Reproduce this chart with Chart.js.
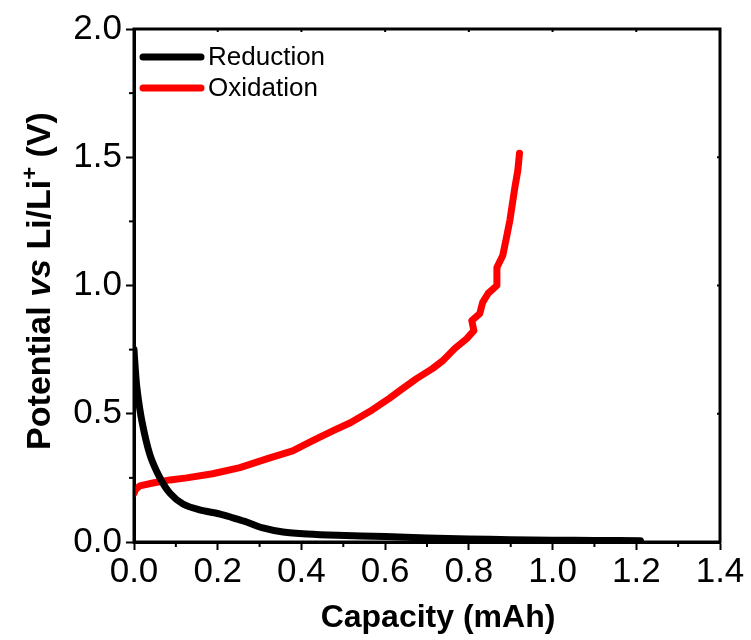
<!DOCTYPE html>
<html>
<head>
<meta charset="utf-8">
<script src="https://cdn.jsdelivr.net/npm/chart.js@4"></script>
<style>
  html, body { margin: 0; padding: 0; background: #fff; }
  #wrap { width: 751px; height: 640px; }
</style>
</head>
<body>
<div id="wrap"><canvas id="chart" width="751" height="640"></canvas></div>
<script>
// Reduction (discharge) curve
const reductionCapacity = [0.000, 0.002, 0.007, 0.019, 0.038, 0.062, 0.086, 0.117, 0.157, 0.206, 0.237, 0.269, 0.308, 0.356, 0.414, 0.485, 0.60, 0.70, 0.80, 0.90, 1.00, 1.10, 1.21];
const reductionPotential = [0.75, 0.70, 0.60, 0.47, 0.34, 0.25, 0.19, 0.148, 0.125, 0.109, 0.094, 0.078, 0.055, 0.039, 0.031, 0.026, 0.021, 0.016, 0.012, 0.009, 0.007, 0.006, 0.005];

// Oxidation (charge) curve
const oxidationCapacity = [0.000, 0.004, 0.014, 0.045, 0.086, 0.126, 0.188, 0.253, 0.317, 0.379, 0.427, 0.476, 0.517, 0.569, 0.610, 0.635, 0.675, 0.713, 0.738, 0.766, 0.795, 0.812, 0.807, 0.826, 0.833, 0.846, 0.867, 0.867, 0.881, 0.890, 0.898, 0.910, 0.917, 0.921];
const oxidationPotential = [0.19, 0.205, 0.219, 0.23, 0.242, 0.25, 0.266, 0.29, 0.324, 0.355, 0.395, 0.434, 0.465, 0.515, 0.56, 0.59, 0.637, 0.676, 0.707, 0.754, 0.793, 0.824, 0.863, 0.89, 0.934, 0.969, 1.0, 1.07, 1.117, 1.188, 1.254, 1.383, 1.449, 1.516];

const seriesLabels = ["Reduction", "Oxidation"];
const seriesColors = ["#000000", "#ff0000"];

const xTicks = [0.0, 0.2, 0.4, 0.6, 0.8, 1.0, 1.2, 1.4];
const yTicks = [0.0, 0.5, 1.0, 1.5, 2.0];

const FONT = "'Liberation Sans', Arial, Helvetica, sans-serif";

function toPoints(xs, ys) {
  return xs.map((x, i) => ({ x: x, y: ys[i] }));
}

// frame, minor ticks, inner legend and both axis titles
const decorPlugin = {
  id: "decor",
  afterDraw(chart) {
    const ctx = chart.ctx;
    const area = chart.chartArea;
    const xs = chart.scales.x;
    const ys = chart.scales.y;

    ctx.save();
    ctx.strokeStyle = "#000";
    ctx.lineWidth = 3;
    ctx.strokeRect(area.left, area.top, area.right - area.left, area.bottom - area.top);

    // minor ticks outward on bottom/left
    ctx.lineWidth = 2;
    for (let i = 0; i < xTicks.length - 1; i++) {
      const px = xs.getPixelForValue((xTicks[i] + xTicks[i + 1]) / 2);
      ctx.beginPath();
      ctx.moveTo(px, area.bottom);
      ctx.lineTo(px, area.bottom + 5);
      ctx.stroke();
    }
    for (let i = 0; i < yTicks.length - 1; i++) {
      const py = ys.getPixelForValue((yTicks[i] + yTicks[i + 1]) / 2);
      ctx.beginPath();
      ctx.moveTo(area.left, py);
      ctx.lineTo(area.left - 5, py);
      ctx.stroke();
    }
    // small inward ticks on top/right
    xTicks.forEach((v) => {
      const px = xs.getPixelForValue(v);
      ctx.beginPath();
      ctx.moveTo(px, area.top);
      ctx.lineTo(px, area.top + 3);
      ctx.stroke();
    });
    yTicks.forEach((v) => {
      const py = ys.getPixelForValue(v);
      ctx.beginPath();
      ctx.moveTo(area.right, py);
      ctx.lineTo(area.right - 3, py);
      ctx.stroke();
    });

    // legend inside the plot
    ctx.lineCap = "round";
    ctx.font = "26px " + FONT;
    ctx.textBaseline = "middle";
    ctx.fillStyle = "#000";
    seriesLabels.forEach((label, i) => {
      const y = area.top + 28 + i * 31;
      ctx.strokeStyle = seriesColors[i];
      ctx.lineWidth = 7;
      ctx.beginPath();
      ctx.moveTo(area.left + 9, y);
      ctx.lineTo(area.left + 67, y);
      ctx.stroke();
      ctx.fillText(label, area.left + 74, y + 1);
    });

    // x axis title
    ctx.font = "bold 32px " + FONT;
    ctx.textAlign = "center";
    ctx.textBaseline = "alphabetic";
    ctx.fillText("Capacity (mAh)", 438, 627);

    // y axis title: Potential vs Li/Li+ (V)
    const parts = [
      { t: "Potential ", f: "bold 34px " + FONT, dy: 0 },
      { t: "vs", f: "italic bold 34px " + FONT, dy: 0 },
      { t: " Li/Li", f: "bold 34px " + FONT, dy: 0 },
      { t: "+", f: "bold 22px " + FONT, dy: -13 },
      { t: " (V)", f: "bold 34px " + FONT, dy: 0 },
    ];
    let total = 0;
    parts.forEach((p) => {
      ctx.font = p.f;
      p.w = ctx.measureText(p.t).width;
      total += p.w;
    });
    ctx.translate(50, 281);
    ctx.rotate(-Math.PI / 2);
    ctx.textAlign = "left";
    let cx = -total / 2;
    parts.forEach((p) => {
      ctx.font = p.f;
      ctx.fillText(p.t, cx, p.dy);
      cx += p.w;
    });
    ctx.restore();
  },
};

const ctx = document.getElementById("chart").getContext("2d");

new Chart(ctx, {
  type: "scatter",
  data: {
    datasets: [
      {
        label: seriesLabels[0],
        data: toPoints(reductionCapacity, reductionPotential),
        showLine: true,
        borderColor: seriesColors[0],
        backgroundColor: seriesColors[0],
        borderWidth: 7,
        pointRadius: 0,
        tension: 0.3,
        borderCapStyle: "round",
        borderJoinStyle: "round",
      },
      {
        label: seriesLabels[1],
        data: toPoints(oxidationCapacity, oxidationPotential),
        showLine: true,
        borderColor: seriesColors[1],
        backgroundColor: seriesColors[1],
        borderWidth: 7,
        pointRadius: 0,
        tension: 0,
        borderCapStyle: "round",
        borderJoinStyle: "round",
      },
    ],
  },
  options: {
    responsive: false,
    animation: false,
    layout: { padding: { left: 0, top: 29, right: 31, bottom: 0 } },
    plugins: {
      legend: { display: false },
      tooltip: { enabled: false },
    },
    scales: {
      x: {
        type: "linear",
        min: 0,
        max: 1.4,
        afterBuildTicks: (scale) => {
          scale.ticks = xTicks.map((v) => ({ value: v }));
        },
        afterFit: (scale) => {
          scale.height = 98;
        },
        ticks: {
          color: "#000",
          font: { family: FONT, size: 35 },
          padding: 1,
          maxRotation: 0,
          callback: (v) => Number(v).toFixed(1),
        },
        grid: {
          display: true,
          drawOnChartArea: false,
          drawTicks: true,
          tickLength: 8,
          tickWidth: 2,
          tickColor: "#000",
        },
        border: { display: true, color: "#000", width: 3 },
      },
      y: {
        type: "linear",
        min: 0,
        max: 2,
        afterBuildTicks: (scale) => {
          scale.ticks = yTicks.map((v) => ({ value: v }));
        },
        afterFit: (scale) => {
          scale.width = 134;
        },
        ticks: {
          color: "#000",
          font: { family: FONT, size: 35 },
          padding: 4,
          callback: (v) => Number(v).toFixed(1),
        },
        grid: {
          display: true,
          drawOnChartArea: false,
          drawTicks: true,
          tickLength: 8,
          tickWidth: 2,
          tickColor: "#000",
        },
        border: { display: true, color: "#000", width: 3 },
      },
    },
  },
  plugins: [decorPlugin],
});
</script>
</body>
</html>
